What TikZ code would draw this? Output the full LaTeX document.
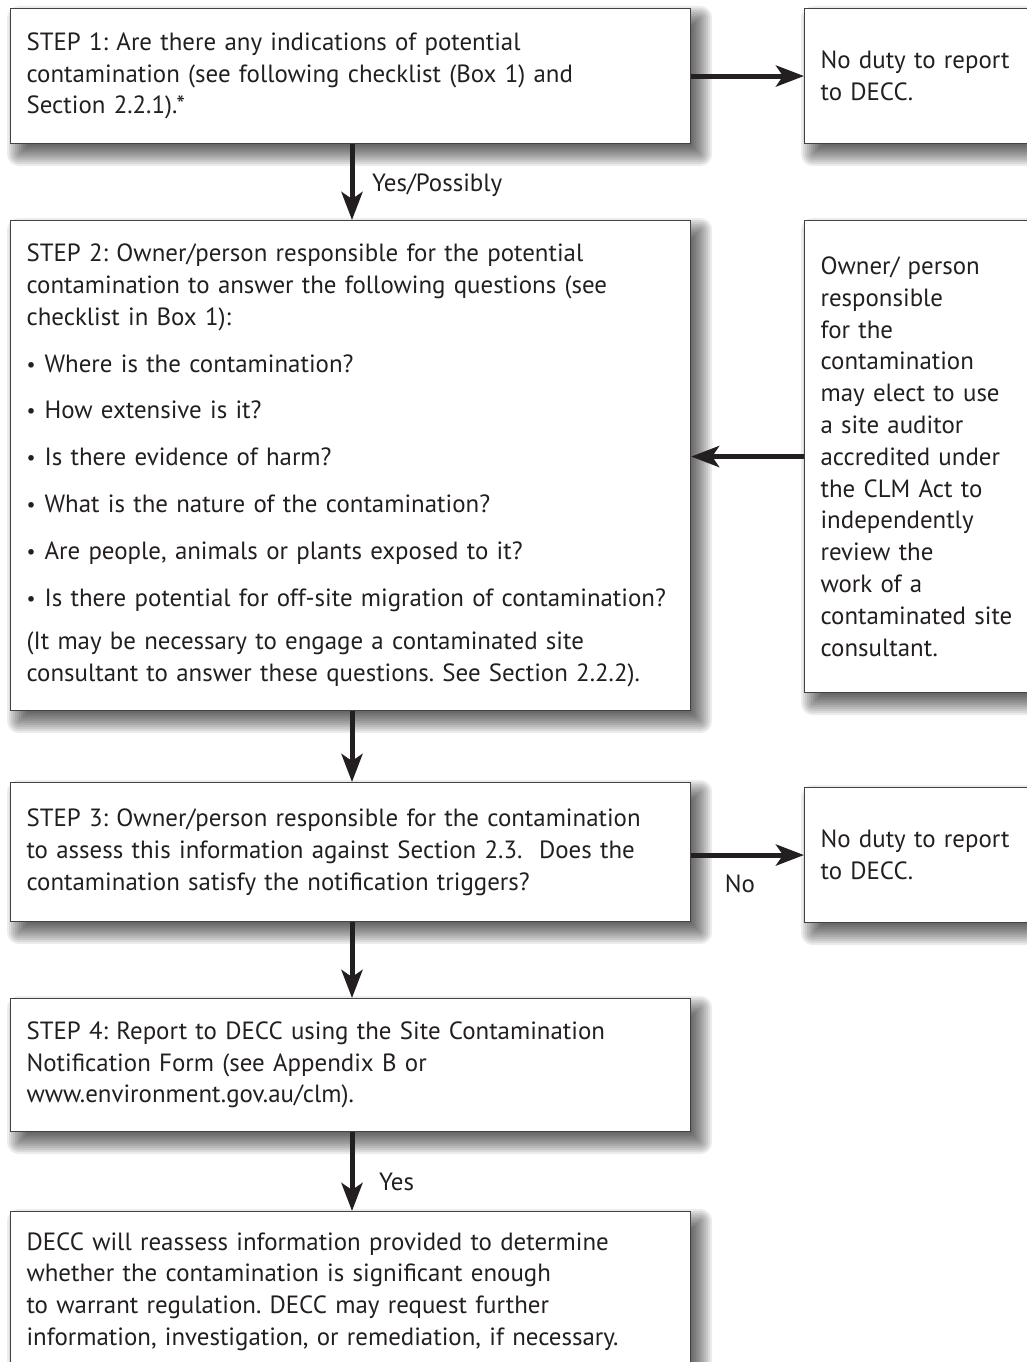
\documentclass[tikz,border=0pt]{standalone}
\usepackage{fontspec}
\setmainfont{PT Sans}
\usetikzlibrary{arrows.meta,calc}
\definecolor{ink}{HTML}{231F20}
\pgfdeclarelayer{back}
\pgfdeclarelayer{bg}
\pgfsetlayers{back,bg,main}
\newcommand{\blt}{\makebox[18pt][l]{\raisebox{1pt}{\scalebox{0.8}{\textbullet}}}}
\tikzset{
  box/.style={draw=ink!85, line width=1.1pt, fill=white, anchor=north west,
    inner xsep=16pt, inner ysep=0pt, align=left, text=ink,
    font=\fontsize{24.9pt}{31.8pt}\selectfont},
  mainbox/.style={box, text width=648pt, minimum width=680pt},
  sidebox/.style={box, text width=204pt, minimum width=236pt},
  arr/.style={line width=5pt, draw=ink, -{Stealth[length=28pt,width=21pt,inset=7pt]}},
  lbl/.style={text=ink, font=\fontsize{24.9pt}{27pt}\selectfont, inner sep=0pt}
}
\begin{document}
\frenchspacing
\begin{tikzpicture}[x=1pt,y=-1pt]
\useasboundingbox (0,0) rectangle (1026,1362);
\begin{pgfonlayer}{back}
\fill[white] (0,0) rectangle (1026,1362);
\end{pgfonlayer}
\coordinate (ax) at (352,0);

\node[mainbox, minimum height=135pt] (b1) at (10,8)
 {STEP 1: Are there any indications of potential\\
  contamination (see following checklist (Box 1) and\\
  Section 2.2.1).*};
\node[sidebox, minimum height=135pt] (r1) at (804,8)
 {No duty to report\\ to DECC.};

\node[mainbox, minimum height=490pt] (b2) at (10,220)
 {STEP 2: Owner/person responsible for the potential\\
  contamination to answer the following questions (see\\
  checklist in Box 1):\\[15pt]
  \blt Where is the contamination?\\[15pt]
  \blt How extensive is it?\\[15pt]
  \blt Is there evidence of harm?\\[15pt]
  \blt What is the nature of the contamination?\\[15pt]
  \blt Are people, animals or plants exposed to it?\\[15pt]
  \blt Is there potential for off-site migration of contamination?\\[12pt]
  (It may be necessary to engage a contaminated site\\
  consultant to answer these questions. See Section 2.2.2).};
\node[sidebox, minimum height=472pt] (r2) at (804,220)
 {Owner/ person\\ responsible\\ for the\\ contamination\\ may elect to use\\
  a site auditor\\ accredited under\\ the CLM Act to\\ independently\\
  review the\\ work of a\\ contaminated site\\ consultant.};

\node[mainbox, minimum height=139pt] (b3) at (10,782)
 {STEP 3: Owner/person responsible for the contamination\\
  to assess this information against Section 2.3.\ \ Does the\\
  contamination satisfy the notification triggers?};
\node[sidebox, minimum height=135pt] (r3) at (804,787)
 {No duty to report\\ to DECC.};

\node[mainbox, minimum height=133pt] (b4) at (10,998)
 {STEP 4: Report to DECC using the Site Contamination\\
  Notification Form (see Appendix B or\\
  www.environment.gov.au/clm).};

\node[mainbox, minimum height=160pt] (b5) at (10,1211)
 {DECC will reassess information provided to determine\\
  whether the contamination is significant enough\\
  to warrant regulation. DECC may request further\\
  information, investigation, or remediation, if necessary.};

\begin{pgfonlayer}{bg}
\foreach \n in {b1,r1,b2,r2,b3,r3,b4,b5}{
  \foreach \i in {0,...,12}{
    \pgfmathsetmacro{\e}{12-2*\i}
    \pgfmathsetmacro{\rc}{max(\e,0.01)}
    \fill[black, opacity=0.075, rounded corners=\rc pt]
      ($(\n.north west)+(9-\e,10-\e)$) rectangle ($(\n.south east)+(9+\e,10+\e)$);
  }
}
\end{pgfonlayer}

\draw[arr] (b1.east) -- (r1.west);
\draw[arr] (r2.west) -- (r2.west -| b2.east);
\draw[arr] (b3.east |- r3.west) -- (r3.west);
\draw[arr] (b1.south -| ax) -- (b2.north -| ax);
\draw[arr] (b2.south -| ax) -- (b3.north -| ax);
\draw[arr] (b3.south -| ax) -- (b4.north -| ax);
\draw[arr] (b4.south -| ax) -- (b5.north -| ax);

\node[lbl, anchor=west] (l1) at (372,185) {Yes/Possibly};
\node[lbl] (l2) at (740,884) {No};
\node[lbl, anchor=west] (l3) at (379,1182) {Yes};
\end{tikzpicture}
\end{document}
